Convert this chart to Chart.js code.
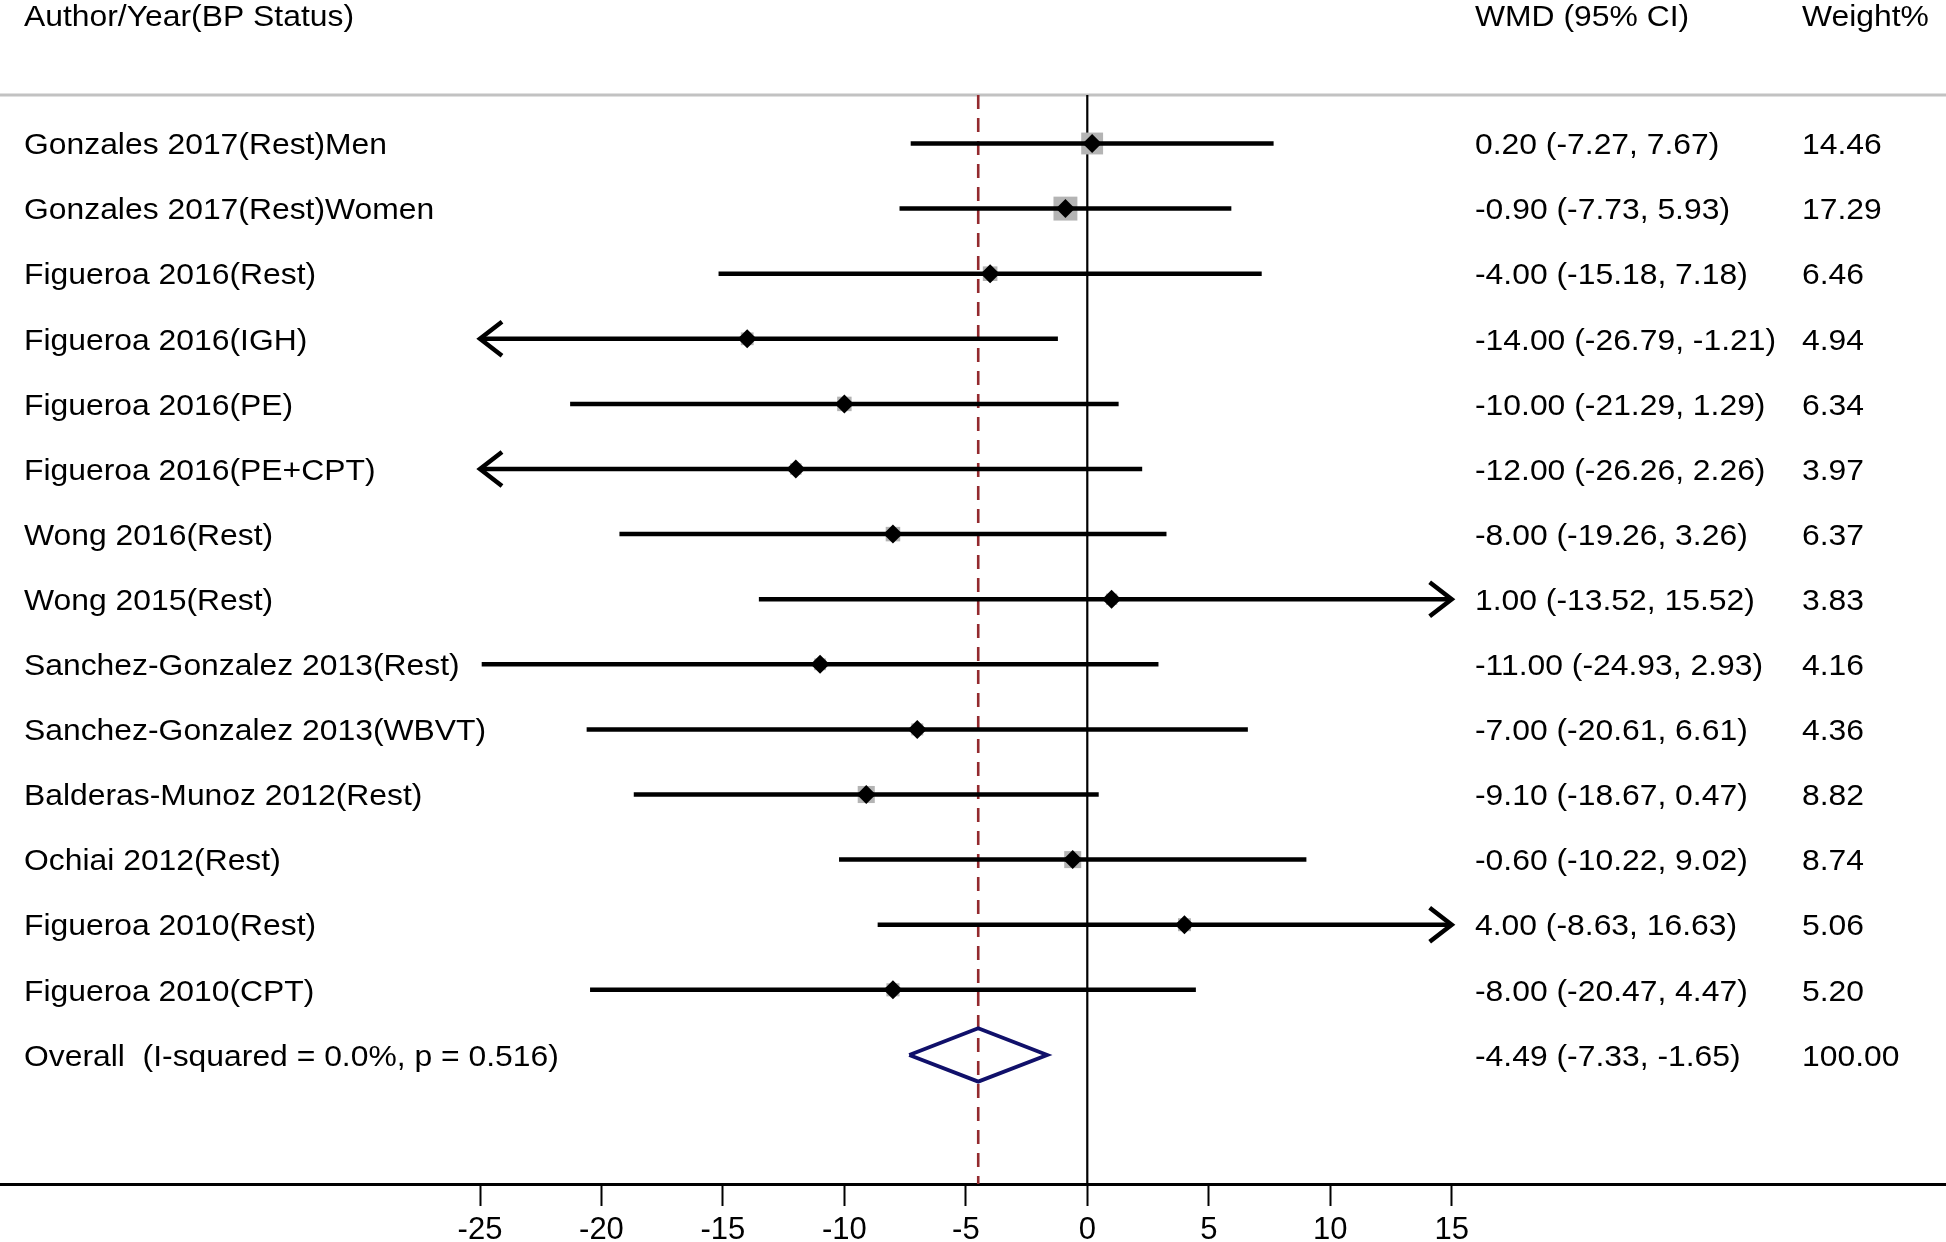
<!DOCTYPE html>
<html>
<head>
<meta charset="utf-8">
<script src="https://cdn.jsdelivr.net/npm/chart.js@4.4.1/dist/chart.umd.min.js"></script>
<style>
html,body{margin:0;padding:0;background:#fff;overflow:hidden}
canvas{display:block}
</style>
</head>
<body>
<canvas id="c" width="1946" height="1242"></canvas>
<script>
// ---------------- data ----------------
const studies = [
  "Gonzales 2017(Rest)Men",
  "Gonzales 2017(Rest)Women",
  "Figueroa 2016(Rest)",
  "Figueroa 2016(IGH)",
  "Figueroa 2016(PE)",
  "Figueroa 2016(PE+CPT)",
  "Wong 2016(Rest)",
  "Wong 2015(Rest)",
  "Sanchez-Gonzalez 2013(Rest)",
  "Sanchez-Gonzalez 2013(WBVT)",
  "Balderas-Munoz 2012(Rest)",
  "Ochiai 2012(Rest)",
  "Figueroa 2010(Rest)",
  "Figueroa 2010(CPT)"
];
const wmd     = [0.20, -0.90, -4.00, -14.00, -10.00, -12.00, -8.00, 1.00, -11.00, -7.00, -9.10, -0.60, 4.00, -8.00];
const lower   = [-7.27, -7.73, -15.18, -26.79, -21.29, -26.26, -19.26, -13.52, -24.93, -20.61, -18.67, -10.22, -8.63, -20.47];
const upper   = [7.67, 5.93, 7.18, -1.21, 1.29, 2.26, 3.26, 15.52, 2.93, 6.61, 0.47, 9.02, 16.63, 4.47];
const weights = [14.46, 17.29, 6.46, 4.94, 6.34, 3.97, 6.37, 3.83, 4.16, 4.36, 8.82, 8.74, 5.06, 5.20];

const overallLabel  = "Overall  (I-squared = 0.0%, p = 0.516)";
const overallWmd    = -4.49;
const overallLower  = -7.33;
const overallUpper  = -1.65;
const overallWeight = 100.00;

const tickValues = [-25, -20, -15, -10, -5, 0, 5, 10, 15];
const headerLabel  = "Author/Year(BP Status)";
const headerCI     = "WMD (95% CI)";
const headerWeight = "Weight%";

// ---------------- layout / style constants ----------------
const X_MIN = -44.76, X_MAX = 35.35;      // axis window
const Y_MIN = 0.255,  Y_MAX = 16.983;     // row window (reversed)
const CLIP_LO = tickValues[0], CLIP_HI = tickValues[tickValues.length - 1];
const BOX_K = 5.75;                        // weight box side = BOX_K * sqrt(weight)
const DIAMOND_H = 0.41;                    // half height of pooled diamond in rows
const FONT_FAMILY = '"Liberation Sans", Arial, sans-serif';
const TEXT_SIZE = 30, HSCALE = 1.062;
const X_LABEL = 24, X_CI = 1475, X_WEIGHT = 1802, HEADER_BASE = 26;

const overallRow = studies.length + 1;
const fmt = v => v.toFixed(2);

// ---------------- datasets ----------------
const datasets = [];
datasets.push({
  type: 'line', label: 'null', order: 10,
  data: [{x: 0, y: Y_MIN}, {x: 0, y: Y_MAX}],
  borderColor: '#000', borderWidth: 2.2, pointRadius: 0, fill: false
});
datasets.push({
  type: 'line', label: 'pooled', order: 9,
  data: [{x: overallWmd, y: Y_MIN}, {x: overallWmd, y: Y_MAX}],
  borderColor: '#932a2e', borderWidth: 2.6, borderDash: [14, 9], pointRadius: 0, fill: false
});
datasets.push({
  type: 'scatter', label: 'weights', order: 6,
  data: studies.map((s, i) => ({x: wmd[i], y: i + 1})),
  pointStyle: 'rect',
  pointRadius: c => BOX_K * Math.sqrt(weights[c.dataIndex]) / Math.SQRT2,
  pointHoverRadius: c => BOX_K * Math.sqrt(weights[c.dataIndex]) / Math.SQRT2,
  backgroundColor: '#b4b4b4', borderWidth: 0
});
studies.forEach((s, i) => {
  datasets.push({
    type: 'line', label: s, order: 5,
    data: [{x: Math.max(lower[i], CLIP_LO), y: i + 1}, {x: Math.min(upper[i], CLIP_HI), y: i + 1}],
    borderColor: '#000', borderWidth: 4.5, pointRadius: 0, fill: false, borderCapStyle: 'butt'
  });
});
datasets.push({
  type: 'line', label: 'overall', order: 2,
  data: [
    {x: overallLower, y: overallRow},
    {x: overallWmd,   y: overallRow - DIAMOND_H},
    {x: overallUpper, y: overallRow},
    {x: overallWmd,   y: overallRow + DIAMOND_H},
    {x: overallLower, y: overallRow}
  ],
  borderColor: '#10106a', borderWidth: 3.8, pointRadius: 0, fill: false,
  tension: 0, borderJoinStyle: 'miter'
});
datasets.push({
  type: 'scatter', label: 'estimates', order: 1,
  data: studies.map((s, i) => ({x: wmd[i], y: i + 1})),
  pointStyle: 'rectRot', pointRadius: 9.5, pointHoverRadius: 9.5,
  backgroundColor: '#000', borderWidth: 0
});

// ---------------- custom drawing ----------------
function drawText(ctx, s, x, yBase) {
  ctx.save();
  ctx.translate(x, yBase);
  ctx.scale(HSCALE, 1);
  ctx.fillText(s, 0, 0);
  ctx.restore();
}

const forestPlugin = {
  id: 'forest',
  beforeDraw(chart) {
    const ctx = chart.ctx;
    ctx.save();
    ctx.fillStyle = '#fff';
    ctx.fillRect(0, 0, chart.width, chart.height);
    ctx.restore();
  },
  beforeDatasetsDraw(chart) {
    const ctx = chart.ctx, top = chart.chartArea.top;
    ctx.save();
    ctx.strokeStyle = '#c2c2c2';
    ctx.lineWidth = 3;
    ctx.beginPath();
    ctx.moveTo(0, top);
    ctx.lineTo(chart.width, top);
    ctx.stroke();
    ctx.restore();
  },
  afterDatasetsDraw(chart) {
    const ctx = chart.ctx, xs = chart.scales.x, ys = chart.scales.y;
    ctx.save();
    ctx.strokeStyle = '#000';
    ctx.lineWidth = 4.5;
    ctx.lineCap = 'butt';
    ctx.lineJoin = 'miter';
    studies.forEach((s, i) => {
      const y = ys.getPixelForValue(i + 1);
      if (lower[i] < CLIP_LO) {
        const x = xs.getPixelForValue(CLIP_LO);
        ctx.beginPath();
        ctx.moveTo(x + 22, y - 17); ctx.lineTo(x, y); ctx.lineTo(x + 22, y + 17);
        ctx.stroke();
      }
      if (upper[i] > CLIP_HI) {
        const x = xs.getPixelForValue(CLIP_HI);
        ctx.beginPath();
        ctx.moveTo(x - 22, y - 17); ctx.lineTo(x, y); ctx.lineTo(x - 22, y + 17);
        ctx.stroke();
      }
    });
    ctx.restore();
  },
  afterDraw(chart) {
    const ctx = chart.ctx, ys = chart.scales.y;
    ctx.save();
    ctx.fillStyle = '#000';
    ctx.font = TEXT_SIZE + 'px ' + FONT_FAMILY;
    ctx.textBaseline = 'alphabetic';
    ctx.textAlign = 'left';
    drawText(ctx, headerLabel, X_LABEL, HEADER_BASE);
    drawText(ctx, headerCI, X_CI, HEADER_BASE);
    drawText(ctx, headerWeight, X_WEIGHT, HEADER_BASE);
    const off = TEXT_SIZE * 0.358;
    studies.forEach((s, i) => {
      const y = ys.getPixelForValue(i + 1) + off;
      drawText(ctx, s, X_LABEL, y);
      drawText(ctx, fmt(wmd[i]) + ' (' + fmt(lower[i]) + ', ' + fmt(upper[i]) + ')', X_CI, y);
      drawText(ctx, fmt(weights[i]), X_WEIGHT, y);
    });
    const yo = ys.getPixelForValue(overallRow) + off;
    drawText(ctx, overallLabel, X_LABEL, yo);
    drawText(ctx, fmt(overallWmd) + ' (' + fmt(overallLower) + ', ' + fmt(overallUpper) + ')', X_CI, yo);
    drawText(ctx, fmt(overallWeight), X_WEIGHT, yo);
    ctx.restore();
  }
};

new Chart(document.getElementById('c'), {
  type: 'scatter',
  data: { datasets },
  options: {
    responsive: false,
    devicePixelRatio: 1,
    animation: false,
    events: [],
    layout: { autoPadding: false, padding: { top: 95, left: 0, right: 0, bottom: 0 } },
    plugins: { legend: { display: false }, tooltip: { enabled: false }, title: { display: false } },
    scales: {
      x: {
        type: 'linear', position: 'bottom', min: X_MIN, max: X_MAX,
        afterBuildTicks: s => { s.ticks = tickValues.map(v => ({ value: v })); },
        afterFit: s => { s.height = 58; s.paddingLeft = 0; s.paddingRight = 0; },
        grid: { display: true, drawOnChartArea: false, drawTicks: true, tickLength: 22, tickWidth: 2, tickColor: '#000' },
        border: { display: true, color: '#000', width: 3 },
        ticks: {
          color: '#000', padding: 9, maxRotation: 0, autoSkip: false,
          font: { size: 31, family: FONT_FAMILY, lineHeight: 1 },
          callback: v => String(v)
        }
      },
      y: { type: 'linear', display: false, reverse: true, min: Y_MIN, max: Y_MAX }
    }
  },
  plugins: [forestPlugin]
});
</script>
</body>
</html>
